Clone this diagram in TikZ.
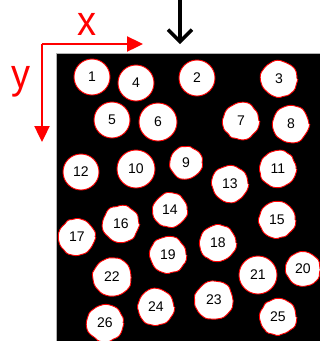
\documentclass[tikz,border=0pt]{standalone}
\usepackage{fontspec}
\setmainfont{Liberation Sans}
\usetikzlibrary{arrows.meta,decorations.pathmorphing}
\pgfmathsetseed{7}
\tikzset{
  grain/.style={circle, draw=red, fill=white, line width=0.9pt, minimum size=#1,
    inner sep=0pt, font=\fontsize{14}{16}\selectfont},
  grain/.default=36pt,
  rough/.style={grain=#1, decorate,
    decoration={random steps, segment length=4.5pt, amplitude=0.9pt}, rounded corners=1.5pt},
  rough/.default=36pt,
  axis/.style={red, line width=2.4pt, -{Triangle[length=16pt,width=15pt]}},
  axlabel/.style={red, font=\fontsize{38}{40}\selectfont, inner sep=0pt, yscale=1.1},
}
\begin{document}
\begin{tikzpicture}[x=1pt,y=-1pt]
\useasboundingbox (0,0) rectangle (320,341);
% specimen field
\fill[black] (56,53) rectangle (320,341);
\draw[gray!60, line width=1pt] (56,341) -- (56,53) -- (320,53);
% coordinate axes
\coordinate (o) at (42,44);
\coordinate (xe) at (143,44);
\coordinate (ye) at (42,142);
\draw[axis] (o) -- (xe);
\draw[axis] (o) -- (ye);
\node[axlabel] (xl) at (87,24) {x};
\node[axlabel] (yl) at (21,82) {y};
% viewing direction
\coordinate (vs) at (180,0);
\coordinate (ve) at (180,44);
\draw[line width=3.5pt, -{Straight Barb[length=12pt,width=24pt,line width=3.5pt]}] (vs) -- (ve);
% grains
\node[grain] (g1) at (92,77) {1};
\node[grain] (g4) at (136,83) {4};
\node[grain] (g2) at (197,78) {2};
\node[rough] (g3) at (279,79) {3};
\node[grain] (g5) at (112,120) {5};
\node[grain=38pt] (g6) at (158,122) {6};
\node[rough] (g7) at (241,121) {7};
\node[rough] (g8) at (291,124) {8};
\node[grain] (g12) at (81,172) {12};
\node[grain=38pt] (g10) at (136,169) {10};
\node[rough=32pt] (g9) at (186,163) {9};
\node[rough] (g13) at (230,184) {13};
\node[rough] (g11) at (278,169) {11};
\node[rough=34pt] (g14) at (170,210) {14};
\node[rough] (g16) at (121,224) {16};
\node[rough] (g17) at (77,237) {17};
\node[rough] (g15) at (277,220) {15};
\node[rough] (g18) at (218,243) {18};
\node[rough] (g19) at (168,255) {19};
\node[rough=38pt] (g22) at (112,277) {22};
\node[grain=38pt] (g21) at (258,275) {21};
\node[rough=34pt] (g20) at (303,269) {20};
\node[rough=38pt] (g23) at (214,300) {23};
\node[rough] (g24) at (156,307) {24};
\node[rough] (g26) at (105,323) {26};
\node[rough] (g25) at (278,317) {25};
\end{tikzpicture}
\end{document}
